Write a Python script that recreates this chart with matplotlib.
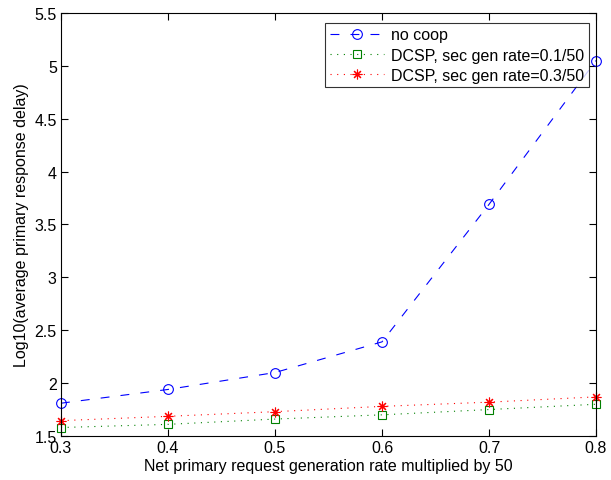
import matplotlib
matplotlib.use("Agg")
import matplotlib.pyplot as plt

x = [0.3, 0.4, 0.5, 0.6, 0.7, 0.8]
no_coop = [1.81, 1.94, 2.10, 2.39, 3.69, 5.05]
dcsp_01 = [1.58, 1.61, 1.66, 1.70, 1.75, 1.80]
dcsp_03 = [1.645, 1.686, 1.73, 1.78, 1.82, 1.87]
xticks = [0.3, 0.4, 0.5, 0.6, 0.7, 0.8]
yticks = [1.5, 2, 2.5, 3, 3.5, 4, 4.5, 5, 5.5]
ytick_labels = ["1.5", "2", "2.5", "3", "3.5", "4", "4.5", "5", "5.5"]

FS = 11.5
plt.rcParams['font.family'] = ['Liberation Sans', 'DejaVu Sans']
fig = plt.figure(figsize=(6.11, 4.81), dpi=100)
ax = fig.add_axes([0.0998, 0.0915, 0.8757, 0.8795])

ax.plot(x, no_coop, color='blue', linestyle=(0, (8, 10)), linewidth=0.8,
        marker='o', markersize=7, markerfacecolor='none', markeredgecolor='blue',
        markeredgewidth=0.8, label='no coop', clip_on=False)
ax.plot(x, dcsp_01, color='green', linestyle=(0, (1, 5)), linewidth=0.8,
        marker='s', markersize=6, markerfacecolor='none', markeredgecolor='green',
        markeredgewidth=0.8, label='DCSP, sec gen rate=0.1/50', clip_on=False)
ax.plot(x, dcsp_03, color='red', linestyle=(0, (1, 5)), linewidth=0.8,
        marker=(8, 2, 0), markersize=7, markeredgecolor='red',
        markeredgewidth=0.8, label='DCSP, sec gen rate=0.3/50', clip_on=False)

ax.set_xlim(0.3, 0.8)
ax.set_ylim(1.5, 5.5)
ax.set_xticks(xticks)
ax.set_xticklabels([str(t) for t in xticks])
ax.set_yticks(yticks)
ax.set_yticklabels(ytick_labels)
ax.tick_params(direction='in', top=True, right=True, labelsize=FS, length=5, width=0.8, pad=3)
for s in ax.spines.values():
    s.set_linewidth(0.8)

ax.set_xlabel('Net primary request generation rate multiplied by 50', fontsize=FS, labelpad=2)
ax.set_ylabel('Log10(average primary response delay)', fontsize=FS, labelpad=4)

leg = ax.legend(loc='upper right', fontsize=FS, frameon=True, fancybox=False,
                edgecolor='black', bbox_to_anchor=(0.9875, 0.977), borderaxespad=0,
                handlelength=3.4, borderpad=0.3, labelspacing=0.32, handletextpad=0.45)
leg.get_frame().set_linewidth(0.8)

fig.savefig('out.png', dpi=100)
